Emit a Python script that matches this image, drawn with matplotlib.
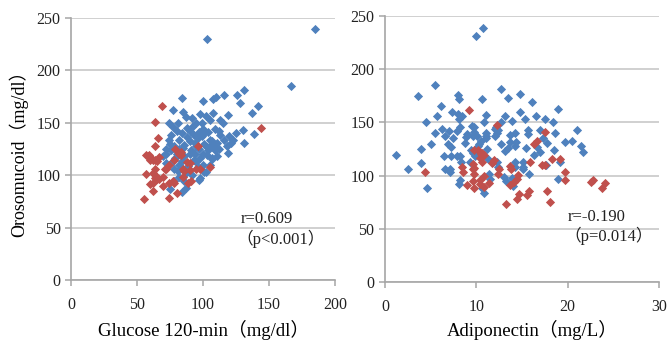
import matplotlib.pyplot as plt

# left panel: Glucose 120-min vs Orosomucoid
glu_blue_x = [103, 185, 167, 131, 126, 116, 110, 108, 100, 84, 142, 128, 77, 87, 98, 108, 119, 137, 74, 92,
              99, 105, 113, 115, 130, 139, 131, 123, 116, 113, 109, 100, 92, 84, 77, 76, 75, 82, 86, 95,
              101, 107, 112, 103, 107, 94, 90, 82, 79, 72, 70, 121, 104, 101, 105, 108, 109, 103, 100, 100,
              101, 98, 84, 87, 78, 75, 82, 97, 102, 105, 107, 96, 93, 82, 78, 72, 80, 88, 90, 85,
              93, 96, 97, 88, 94, 91, 86, 84, 89, 80, 76, 74, 78, 111, 118, 120, 104, 97, 99, 106,
              112, 125, 81, 95, 102, 85, 90, 72, 87, 92, 95, 98, 86, 81, 77, 119, 111]
glu_blue_y = [230, 239, 185, 181, 176, 176, 174, 172, 171, 173, 166, 169, 162, 155, 158, 159, 157, 159, 150, 154,
              150, 152, 152, 150, 143, 139, 131, 133, 133, 138, 144, 144, 146, 140, 146, 138, 130, 133, 129, 128,
              130, 132, 125, 119, 116, 120, 120, 125, 116, 120, 118, 131, 141, 140, 133, 127, 124, 127, 120, 110,
              103, 97, 84, 88, 94, 87, 98, 95, 103, 110, 115, 108, 114, 110, 106, 111, 142, 136, 132, 126,
              138, 135, 141, 145, 131, 124, 118, 113, 109, 120, 124, 133, 128, 131, 128, 137, 124, 125, 137, 129,
              142, 140, 150, 150, 156, 160, 142, 125, 102, 100, 112, 116, 94, 104, 113, 121, 118]
glu_red_x = [69, 64, 66, 64, 96.5, 143.7, 59, 61, 64, 67, 79, 83, 82, 90, 55, 74, 80, 57, 62, 62,
             64, 67, 70, 74, 78, 85, 89, 91, 97.7, 105, 85, 64, 72, 57, 62, 78, 83, 88, 58.6, 60,
             65, 71, 74, 62, 64, 65, 60, 70, 77, 85.5, 95, 90]
glu_red_y = [166, 151, 135, 128, 128, 144.5, 119, 116, 114, 117, 125, 122, 120, 111, 77, 78, 82.5, 100.6, 92, 85,
             97, 96, 90, 92, 92, 98, 92, 94, 106, 108, 106, 106, 106, 119, 114, 114, 119, 112, 118, 114,
             113, 106, 110, 102, 100, 96, 91, 98, 94, 104, 106, 105]

# right panel: Adiponectin vs Orosomucoid
adi_blue_x = [10.0, 10.75, 5.5, 3.6, 8.0, 8.1, 10.6, 12.7, 13.5, 14.8, 16.1, 18.9, 6.1, 5.65, 7.3, 8.0, 8.1, 8.4,
              11.1, 12.7, 13.9, 15.3, 17.5, 18.4, 21.0, 21.5, 21.7, 19.7, 15.7, 15.7, 17.3, 17.8, 16.6, 13.7,
              14.4, 12.1, 12.3, 5.5, 7.0, 7.9, 6.6, 6.9, 7.2, 8.9, 8.8, 9.7, 10.1, 10.3, 10.5, 11.1, 9.6, 9.9,
              7.9, 7.2, 6.5, 3.9, 4.0, 2.5, 1.2, 4.6, 8.1, 10.8, 11.5, 13.3, 14.0, 19.0, 6.6, 7.1, 7.1, 8.3,
              9.3, 12.4, 14.2, 15.1, 15.1, 15.8, 19.2, 17.6, 13.2, 12.2, 12.1, 12.4, 9.5, 9.0, 9.8, 9.6, 8.2,
              11.1, 11.1, 13.7, 14.2, 13.5, 13.1, 14.2, 15.5, 9.4, 9.8, 8.2, 11.2, 11.3, 11.8, 12.3, 14.2,
              15.1, 11.4, 13.0, 13.9, 8.2, 10.6, 16.3, 17.0, 18.5, 17.0, 18.6, 20.5, 6.3, 5.0, 4.5, 10.8,
              14.8, 16.5, 12.7, 7.5, 10.2]
adi_blue_y = [231, 239, 185, 174.5, 176, 172, 172, 181, 172.6, 177, 169, 163, 165.7, 156, 160, 158, 153, 156,
              157, 150, 151.6, 153, 153, 150, 143, 128, 122, 132, 143, 139.5, 135, 131, 127, 138,
              132, 144, 140, 140, 142, 142, 137, 130, 127, 136, 131, 146, 137, 130, 133, 137, 121, 118,
              118, 118, 118, 125, 112, 106, 119, 88, 92, 84, 97, 95, 90, 97, 106, 106, 103, 113,
              113, 108, 108, 108.5, 106, 102, 113, 110, 155.7, 146, 137, 143, 147, 139, 141, 137, 146,
              140, 135, 132, 140, 126, 123, 128, 126, 124, 122, 118, 125, 116, 113, 113, 113,
              113, 102, 99, 98, 96, 88, 119, 122, 124, 143, 140, 133, 144, 130, 150, 150,
              160, 156, 130, 135, 128]
adi_red_x = [9.2, 12.3, 17.5, 16.3, 10.6, 10.8, 9.8, 13.7, 11.7, 10.6, 9.8, 8.6, 4.4, 15.9, 18.3, 19.2, 17.2,
             17.5, 19.7, 9.7, 9.7, 9.0, 10.4, 10.9, 12.4, 13.3, 13.7, 14.5, 14.5, 15.6, 17.8, 18.1, 19.7,
             22.6, 22.8, 23.8, 24.1, 16.7, 10.2, 10.5, 10.4, 9.6, 8.4, 9.6, 11.9, 12.5, 13.8, 14.6, 9.6,
             10.4, 10.9, 11.4, 14.1, 14.7, 15.8]
adi_red_y = [162, 147.5, 141, 130, 121, 119, 124.5, 109, 112, 113, 107, 103, 103, 113, 116, 116, 109.6,
             109.6, 103, 102, 88, 91.5, 96, 89.6, 102, 73, 91, 78, 97, 82, 86, 75, 96,
             93.7, 95.5, 88.6, 93, 133, 124, 120, 117, 111, 108, 106, 115, 106, 106, 101, 95,
             92, 100, 93, 94, 83, 86]

blue = "#4F81BD"
red = "#C0504D"
fam = ["Liberation Serif", "Noto Sans CJK JP"]
plt.rcParams["font.family"] = fam


def style(ax, xmax, xstep):
    ax.set_ylim(0, 250)
    ax.set_yticks(range(0, 251, 50))
    ax.set_xlim(0, xmax)
    ax.set_xticks(range(0, xmax + 1, xstep))
    for s in ["top", "right"]:
        ax.spines[s].set_visible(False)
    for s in ["left", "bottom"]:
        ax.spines[s].set_color("#A6A6A6")
        ax.spines[s].set_linewidth(1.2)
    ax.grid(axis="y", color="#C4C4C4", linewidth=1.1)
    ax.set_axisbelow(True)
    ax.tick_params(axis="both", colors="#A6A6A6", labelcolor="#222222", labelsize=11.5, length=4, width=1.1)
    ax.tick_params(axis="x", pad=8)


fig = plt.figure(figsize=(6.68, 3.48), dpi=100)
ax1 = fig.add_axes([0.1063, 0.1954, 0.395, 0.754])
ax2 = fig.add_axes([0.5763, 0.1897, 0.410, 0.764])

ax1.scatter(glu_blue_x, glu_blue_y, marker="D", s=22, color=blue, linewidths=0, zorder=3)
ax1.scatter(glu_red_x, glu_red_y, marker="D", s=22, color=red, linewidths=0, zorder=3)
style(ax1, 200, 50)
ax1.text(129, 54, "r=0.609", fontsize=12, color="#222222")
ax1.text(125, 34, "（p<0.001）", fontsize=12, color="#222222")

ax2.scatter(adi_blue_x, adi_blue_y, marker="D", s=22, color=blue, linewidths=0, zorder=3)
ax2.scatter(adi_red_x, adi_red_y, marker="D", s=22, color=red, linewidths=0, zorder=3)
style(ax2, 30, 10)
ax2.text(20.0, 57, "r=-0.190", fontsize=12, color="#222222")
ax2.text(19.6, 39, "（p=0.014）", fontsize=12, color="#222222")

fig.text(0.027, 0.57, "Orosomucoid（mg/dl）", rotation=90, ha="center", va="center", fontsize=13)
fig.text(0.305, 0.022, "Glucose 120-min（mg/dl）", ha="center", va="bottom", fontsize=13.5)
fig.text(0.797, 0.022, "Adiponectin（mg/L）", ha="center", va="bottom", fontsize=13.5)

fig.savefig("out.png", dpi=100)
